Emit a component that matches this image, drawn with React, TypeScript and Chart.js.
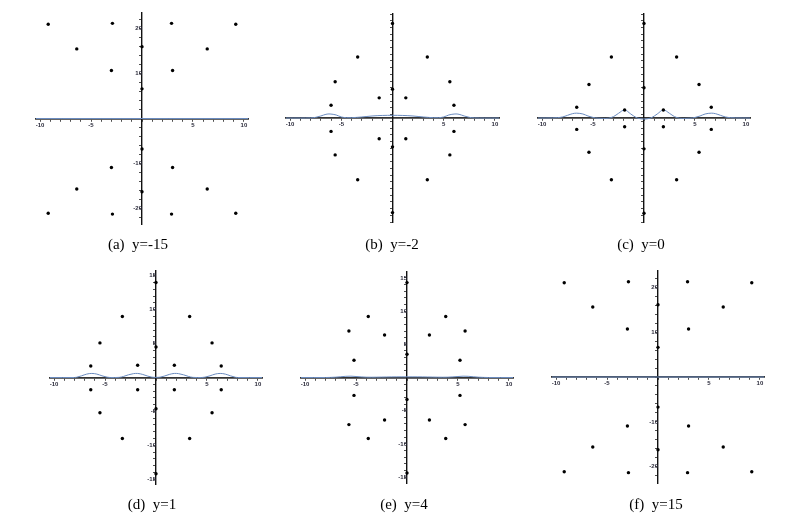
import React, { useEffect, useRef } from "react";
import { Chart, registerables } from "chart.js";

Chart.register(...registerables);

// ---------- data ----------
const CAPTIONS = ["(a)", "(b)", "(c)", "(d)", "(e)", "(f)"];
const Y_VALUES = ["y=-15", "y=-2", "y=0", "y=1", "y=4", "y=15"];

const A_POINTS: [number, number][] = [
  [-9.2, 21.0], [-2.9, 21.2], [2.9, 21.2], [9.2, 21.0],
  [-6.4, 15.5], [6.4, 15.5], [0, 16.0],
  [-3.0, 10.7], [3.0, 10.7], [0, 6.6],
  [0, -6.8], [-3.0, -10.9], [3.0, -10.9],
  [-6.4, -15.7], [6.4, -15.7], [0, -16.3],
  [-9.2, -21.1], [-2.9, -21.3], [2.9, -21.3], [9.2, -21.1],
];
const A_CURVE: [number, number][] = [[-10.4, 0], [0, 0], [10.4, 0]];

const B_POINTS: [number, number][] = [
  [-3.4, 9.1], [3.4, 9.1], [-5.6, 5.4], [5.6, 5.4], [-6.0, 1.9], [6.0, 1.9],
  [-1.3, 3.0], [1.3, 3.0], [0, 14.1], [0, 4.3],
  [-6.0, -2.0], [6.0, -2.0], [-1.3, -3.1], [1.3, -3.1], [0, -4.3],
  [-5.6, -5.5], [5.6, -5.5], [-3.4, -9.2], [3.4, -9.2], [0, -14.1],
];
const B_CURVE: [number, number][] = [
  [-10.4, 0], [-9, 0], [-8, 0.02], [-7.5, 0.1], [-7, 0.3], [-6.5, 0.55], [-6.1, 0.6],
  [-5.5, 0.45], [-5, 0.15], [-4.5, 0.05], [-4, 0.05], [-3, 0.15], [-2, 0.3], [-1, 0.38],
  [0, 0.4], [1, 0.38], [2, 0.3], [3, 0.15], [4, 0.05], [4.5, 0.05], [5, 0.15], [5.5, 0.45],
  [6.1, 0.6], [6.5, 0.55], [7, 0.3], [7.5, 0.1], [8, 0.02], [9, 0], [10.4, 0],
];

const C_POINTS: [number, number][] = [
  [-3.2, 9.1], [3.2, 9.1], [-5.4, 5.0], [5.4, 5.0], [-6.6, 1.6], [6.6, 1.6],
  [-1.9, 1.2], [1.9, 1.2], [0, 14.1], [0, 4.5],
  [-6.6, -1.7], [6.6, -1.7], [-1.9, -1.3], [1.9, -1.3], [0, -4.6],
  [-5.4, -5.1], [5.4, -5.1], [-3.2, -9.2], [3.2, -9.2], [0, -14.2],
];
const C_CURVE: [number, number][] = [
  [-10.4, 0], [-9, 0.02], [-8.5, 0.05], [-8, 0.15], [-7.5, 0.4], [-7, 0.65], [-6.6, 0.72],
  [-6, 0.6], [-5.5, 0.3], [-5, 0.08], [-4.5, -0.02], [-4, -0.05], [-3.5, -0.03], [-3, 0.2],
  [-2.5, 0.7], [-1.9, 1.2], [-1.3, 0.6], [-0.8, 0.1], [-0.4, -0.1], [0, -0.15],
  [0.4, -0.1], [0.8, 0.1], [1.3, 0.6], [1.9, 1.2], [2.5, 0.7], [3, 0.2], [3.5, -0.03],
  [4, -0.05], [4.5, -0.02], [5, 0.08], [5.5, 0.3], [6, 0.6], [6.6, 0.72], [7, 0.65],
  [7.5, 0.4], [8, 0.15], [8.5, 0.05], [9, 0.02], [10.4, 0],
];

const D_POINTS: [number, number][] = [
  [-3.3, 9.0], [3.3, 9.0], [-5.5, 5.1], [5.5, 5.1], [-6.4, 1.7], [6.4, 1.7],
  [-1.8, 1.8], [1.8, 1.8], [0, 14.0], [0, 4.5],
  [-6.4, -1.8], [6.4, -1.8], [-1.8, -1.8], [1.8, -1.8], [0, -4.6],
  [-5.5, -5.2], [5.5, -5.2], [-3.3, -9.0], [3.3, -9.0], [0, -14.2],
];
const D_CURVE: [number, number][] = [
  [-10.4, 0], [-8, 0], [-7.8, 0.03], [-7.3, 0.25], [-6.8, 0.5], [-6.3, 0.6], [-5.8, 0.5],
  [-5.3, 0.25], [-4.8, 0.05], [-4.5, 0], [-3.6, 0.02], [-3.2, 0.15], [-2.7, 0.4],
  [-2.2, 0.57], [-1.8, 0.6], [-1.3, 0.45], [-0.8, 0.2], [-0.4, 0.05], [0, 0.02],
  [0.4, 0.05], [0.8, 0.2], [1.3, 0.45], [1.8, 0.6], [2.2, 0.57], [2.7, 0.4], [3.2, 0.15],
  [3.6, 0.02], [4.5, 0], [4.8, 0.05], [5.3, 0.25], [5.8, 0.5], [6.3, 0.6], [6.8, 0.5],
  [7.3, 0.25], [7.8, 0.03], [8, 0], [10.4, 0],
];

const E_POINTS: [number, number][] = [
  [-3.8, 9.2], [3.8, 9.2], [-5.7, 7.0], [5.7, 7.0], [-2.2, 6.4], [2.2, 6.4],
  [-5.2, 2.6], [5.2, 2.6], [0, 14.3], [0, 3.5],
  [-5.2, -2.7], [5.2, -2.7], [0, -3.3], [-2.2, -6.4], [2.2, -6.4],
  [-5.7, -7.1], [5.7, -7.1], [-3.8, -9.2], [3.8, -9.2], [0, -14.4],
];
const E_CURVE: [number, number][] = [
  [-10.4, 0], [-8, 0], [-7, 0.05], [-6, 0.18], [-5.5, 0.2], [-5, 0.15], [-4, 0.05],
  [-3, 0.05], [-2, 0.08], [-1, 0.1], [0, 0.1], [1, 0.1], [2, 0.08], [3, 0.05], [4, 0.05],
  [5, 0.15], [5.5, 0.2], [6, 0.18], [7, 0.05], [8, 0], [10.4, 0],
];

const F_POINTS: [number, number][] = [
  [-9.2, 21.0], [-2.9, 21.2], [2.9, 21.2], [9.2, 21.0],
  [-6.4, 15.6], [6.4, 15.6], [0, 16.1],
  [-3.0, 10.7], [3.0, 10.7], [0, 6.6],
  [0, -6.7], [-3.0, -10.9], [3.0, -10.9],
  [-6.4, -15.6], [6.4, -15.6], [0, -16.2],
  [-9.2, -21.1], [-2.9, -21.3], [2.9, -21.3], [9.2, -21.1],
];
const F_CURVE: [number, number][] = [[-10.4, 0], [0, 0], [10.4, 0]];

const POINT_SETS = [A_POINTS, B_POINTS, C_POINTS, D_POINTS, E_POINTS, F_POINTS];
const CURVE_SETS = [A_CURVE, B_CURVE, C_CURVE, D_CURVE, E_CURVE, F_CURVE];
const Y_LIMITS = [23.5, 15.5, 15.5, 15.7, 15.9, 23.6];
const Y_STEPS = [2, 1, 1, 1, 1, 2];
const Y_LABEL_EVERY = [10, 5, 5, 5, 5, 10];
const X_LIMIT = 10.4;

// ---------- layout (plot-area boxes in page pixels) ----------
const AREAS = [
  { left: 36, top: 13, w: 212, h: 211 },
  { left: 286, top: 14, w: 213, h: 208 },
  { left: 538, top: 14, w: 212, h: 208 },
  { left: 50, top: 271, w: 212, h: 213 },
  { left: 301, top: 272, w: 212, h: 211 },
  { left: 552, top: 271, w: 212, h: 212 },
];
const CAPTION_POS = [
  { cx: 138, base: 249 },
  { cx: 392, base: 249 },
  { cx: 641, base: 249 },
  { cx: 152, base: 509 },
  { cx: 404, base: 509 },
  { cx: 656, base: 509 },
];
const PAD = 14;

function Panel({ idx }: { idx: number }) {
  const ref = useRef<HTMLCanvasElement | null>(null);
  const area = AREAS[idx];
  const cw = area.w + PAD * 2;
  const ch = area.h + PAD * 2;

  useEffect(() => {
    if (!ref.current) return;
    const yl = Y_LIMITS[idx];
    const every = Y_LABEL_EVERY[idx];
    const tickFont = { family: "'Liberation Sans', Arial, sans-serif", size: 6, weight: "bold" as const };
    const chart = new Chart(ref.current, {
      type: "scatter",
      data: {
        datasets: [
          {
            data: POINT_SETS[idx].map(([x, y]) => ({ x, y })),
            showLine: false,
            pointRadius: 1.7,
            pointBorderWidth: 0,
            pointBackgroundColor: "#000",
            pointBorderColor: "#000",
          },
          {
            data: CURVE_SETS[idx].map(([x, y]) => ({ x, y })),
            showLine: true,
            borderColor: "#6A8BBF",
            borderWidth: 1,
            pointRadius: 0,
            tension: 0.35,
            fill: false,
          },
        ],
      },
      options: {
        animation: false,
        responsive: false,
        events: [],
        layout: { padding: PAD },
        plugins: { legend: { display: false }, tooltip: { enabled: false }, title: { display: false } },
        scales: {
          x: {
            type: "linear",
            min: -X_LIMIT,
            max: X_LIMIT,
            position: { y: 0 } as any,
            z: 1,
            afterFit: (s: any) => { s.height = 0; },
            border: { display: true, color: "#333", width: 1.8 },
            grid: { drawOnChartArea: false, drawTicks: true, tickLength: 2, tickColor: "#222", tickWidth: 0.8 },
            ticks: {
              stepSize: 1,
              autoSkip: false,
              includeBounds: false,
              maxRotation: 0,
              padding: 1,
              color: "#2a2a3a",
              font: tickFont,
              callback: (v: any) => (Number(v) !== 0 && Number(v) % 5 === 0 ? String(v) : ""),
            },
          },
          y: {
            type: "linear",
            min: -yl,
            max: yl,
            position: { x: 0 } as any,
            z: 1,
            afterFit: (s: any) => { s.width = 0; },
            border: { display: true, color: "#111", width: 1.4 },
            grid: { drawOnChartArea: false, drawTicks: true, tickLength: 2, tickColor: "#222", tickWidth: 0.8 },
            ticks: {
              stepSize: Y_STEPS[idx],
              autoSkip: false,
              includeBounds: false,
              padding: 1,
              color: "#2a2a3a",
              font: tickFont,
              callback: (v: any) => (Number(v) !== 0 && Number(v) % every === 0 ? String(v) : ""),
            },
          },
        },
      },
    });
    return () => chart.destroy();
  }, [idx]);

  const cap = CAPTION_POS[idx];
  return (
    <>
      <canvas
        ref={ref}
        width={cw}
        height={ch}
        style={{ position: "absolute", left: area.left - PAD, top: area.top - PAD, width: cw, height: ch }}
      />
      <div
        style={{
          position: "absolute",
          left: cap.cx - 70,
          width: 140,
          top: cap.base - 12.5,
          textAlign: "center",
          fontFamily: "'Liberation Serif', 'Times New Roman', serif",
          fontSize: 15,
          lineHeight: "15px",
          color: "#000",
          whiteSpace: "pre",
        }}
      >
        {CAPTIONS[idx] + "  " + Y_VALUES[idx]}
      </div>
    </>
  );
}

export default function App() {
  return (
    <div style={{ position: "absolute", left: 0, top: 0, width: 795, height: 519, background: "#fff", overflow: "hidden" }}>
      {[0, 1, 2, 3, 4, 5].map((i) => (
        <Panel key={i} idx={i} />
      ))}
    </div>
  );
}
